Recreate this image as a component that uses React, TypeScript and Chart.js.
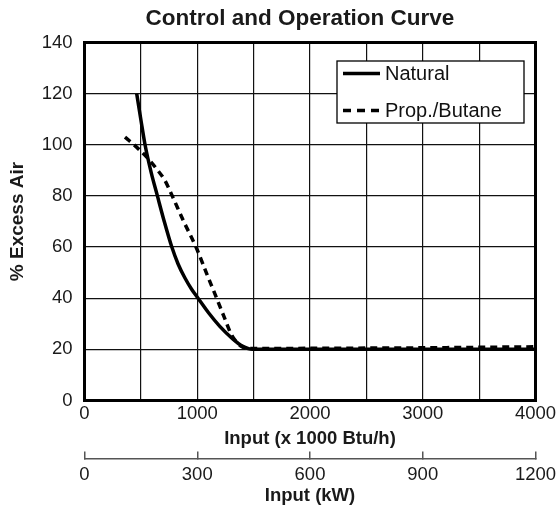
import React, { useEffect, useRef } from 'react';
import { Chart, registerables } from 'chart.js';

Chart.register(...registerables);

const FONT = "'Liberation Sans', Arial, Helvetica, sans-serif";

const chartTitle = 'Control and Operation Curve';
const yTitle = '% Excess Air';
const xTitle = 'Input (x 1000 Btu/h)';
const x2Title = 'Input (kW)';
const seriesNames = ['Natural', 'Prop./Butane'];

// Input (x 1000 Btu/h) vs % Excess Air
const naturalX = [463, 500, 537, 590, 646, 705, 773, 830, 891, 950, 1007, 1100, 1200, 1317, 1400, 1490, 2000, 3000, 4000];
const naturalY = [120, 109.8, 100, 89.4, 80.1, 70.4, 60.2, 53.4, 47.9, 43.5, 40, 34.3, 29, 24, 21.3, 20, 20, 20, 20];
const propaneX = [359, 439, 566, 650, 714, 773, 880, 989, 1080, 1172, 1240, 1306, 1390, 1460, 2000, 3000, 4000];
const propaneY = [103, 100, 94.5, 90, 86, 80.5, 70, 60, 50, 40, 32.5, 25.5, 21.2, 20.3, 20.4, 20.6, 21];

// axis ranges / ticks
const xBtuRange = [0, 4000];
const xBtuGridStep = 500;
const xBtuLabelStep = 1000;
const yRange = [0, 140];
const yStep = 20;
const xKwRange = [0, 1200];
const xKwStep = 300;

const toPoints = (xs: number[], ys: number[]) => xs.map((x, i) => ({ x, y: ys[i] }));

const titlePlugin = {
  id: 'topTitle',
  afterDraw(chart: any) {
    const { ctx, chartArea } = chart;
    ctx.save();
    ctx.font = `bold 22.5px ${FONT}`;
    ctx.fillStyle = '#1a1a1a';
    ctx.textAlign = 'center';
    ctx.textBaseline = 'middle';
    ctx.fillText(chartTitle, (chartArea.left + chartArea.right) / 2 - 10, 19);
    ctx.restore();
  },
};

const framePlugin = {
  id: 'frame',
  afterDraw(chart: any) {
    const { ctx, chartArea } = chart;
    ctx.save();
    ctx.strokeStyle = '#000';
    ctx.lineWidth = 3;
    ctx.strokeRect(chartArea.left, chartArea.top, chartArea.right - chartArea.left, chartArea.bottom - chartArea.top);
    ctx.restore();
  },
};

const legendPlugin = {
  id: 'boxLegend',
  afterDraw(chart: any) {
    const { ctx, chartArea } = chart;
    const w = 187;
    const h = 62;
    const right = chartArea.right - 11.5;
    const left = right - w;
    const top = chartArea.top + 18.5;
    ctx.save();
    ctx.fillStyle = '#fff';
    ctx.fillRect(left, top, w, h);
    ctx.strokeStyle = '#000';
    ctx.lineWidth = 1.3;
    ctx.strokeRect(left, top, w, h);
    chart.data.datasets.forEach((ds: any, i: number) => {
      const cy = top + 12.5 + i * 37;
      ctx.beginPath();
      ctx.setLineDash(ds.borderDash ? [8, 6] : []);
      ctx.lineWidth = ds.borderWidth;
      ctx.strokeStyle = ds.borderColor;
      ctx.moveTo(left + 6, cy);
      ctx.lineTo(left + 43, cy);
      ctx.stroke();
      ctx.setLineDash([]);
      ctx.fillStyle = '#111';
      ctx.font = `20px ${FONT}`;
      ctx.textBaseline = 'middle';
      ctx.textAlign = 'left';
      ctx.fillText(ds.label, left + 48, cy + 1);
    });
    ctx.restore();
  },
};

const noSidePadding = (height: number) => (s: any) => {
  s.height = height;
  s.paddingLeft = 0;
  s.paddingRight = 0;
};

export default function App() {
  const canvasRef = useRef<HTMLCanvasElement | null>(null);

  useEffect(() => {
    if (!canvasRef.current) return;
    const tickFont = { family: FONT, size: 18.5 };
    const titleFont = { family: FONT, size: 18.5, weight: 'bold' as const };
    const chart = new Chart(canvasRef.current, {
      type: 'line',
      data: {
        datasets: [
          {
            label: seriesNames[0],
            data: toPoints(naturalX, naturalY),
            borderColor: '#000',
            borderWidth: 3.5,
            pointRadius: 0,
            fill: false,
            cubicInterpolationMode: 'monotone',
            xAxisID: 'x',
            yAxisID: 'y',
          },
          {
            label: seriesNames[1],
            data: toPoints(propaneX, propaneY),
            borderColor: '#000',
            borderWidth: 3.5,
            borderDash: [7, 5],
            pointRadius: 0,
            fill: false,
            cubicInterpolationMode: 'monotone',
            xAxisID: 'x',
            yAxisID: 'y',
          },
        ],
      },
      options: {
        responsive: false,
        animation: false,
        layout: { padding: { left: 0, right: 23.5, top: 42.5, bottom: 0 } },
        plugins: {
          legend: { display: false },
          title: { display: false },
          tooltip: { enabled: false },
        },
        scales: {
          x: {
            type: 'linear',
            position: 'bottom',
            weight: 0,
            min: xBtuRange[0],
            max: xBtuRange[1],
            afterFit: noSidePadding(58),
            ticks: {
              stepSize: xBtuGridStep,
              autoSkip: false,
              maxRotation: 0,
              padding: 2.4,
              color: '#1a1a1a',
              font: tickFont,
              callback: (v: any) => (Number(v) % xBtuLabelStep === 0 ? String(v) : ''),
            },
            grid: { color: '#111', lineWidth: 1.2, drawTicks: false },
            border: { display: false },
            title: {
              display: true,
              text: xTitle,
              color: '#1a1a1a',
              font: titleFont,
              padding: { top: 0, bottom: 8.4 },
            },
          },
          x2: {
            type: 'linear',
            position: 'bottom',
            weight: 1,
            min: xKwRange[0],
            max: xKwRange[1],
            afterFit: noSidePadding(53.5),
            ticks: {
              stepSize: xKwStep,
              autoSkip: false,
              maxRotation: 0,
              padding: 12.5,
              color: '#1a1a1a',
              font: tickFont,
              callback: (v: any) => String(v),
            },
            grid: {
              drawOnChartArea: false,
              drawTicks: true,
              tickLength: -7,
              color: '#555',
              lineWidth: 1.5,
            },
            border: { display: true, color: '#555', width: 1.5 },
            title: {
              display: true,
              text: x2Title,
              color: '#1a1a1a',
              font: titleFont,
              padding: { top: 0, bottom: 4.9 },
            },
          },
          y: {
            type: 'linear',
            position: 'left',
            min: yRange[0],
            max: yRange[1],
            afterFit: (s: any) => { s.width = 84.5; },
            ticks: {
              stepSize: yStep,
              padding: 12,
              color: '#1a1a1a',
              font: tickFont,
            },
            grid: { color: '#111', lineWidth: 1.2, drawTicks: false },
            border: { display: false },
            title: {
              display: true,
              text: yTitle,
              color: '#1a1a1a',
              font: { family: FONT, size: 19, weight: 'bold' },
              padding: { top: 6, bottom: 0 },
            },
          },
        },
      },
      plugins: [titlePlugin, framePlugin, legendPlugin],
    } as any);
    return () => chart.destroy();
  }, []);

  return (
    <div style={{ position: 'fixed', left: 0, top: 0, width: 559, height: 512, background: '#fff' }}>
      <canvas ref={canvasRef} width={559} height={512} style={{ display: 'block' }} />
    </div>
  );
}
